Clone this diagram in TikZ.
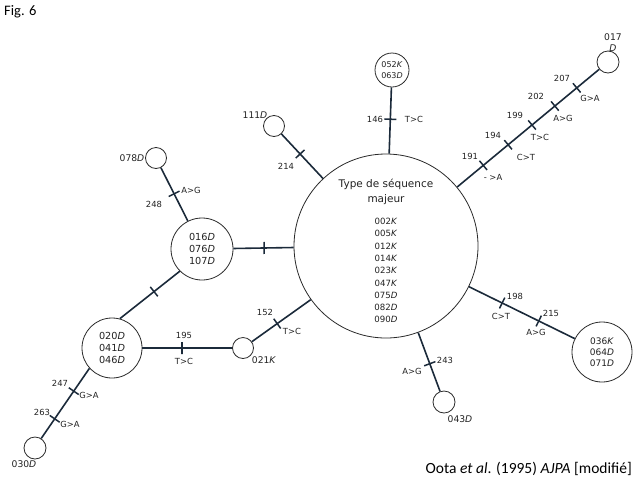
\documentclass[tikz,border=0pt]{standalone}
\usepackage{fontspec}
\setmainfont{DejaVu Sans}
\newfontfamily\calib{Carlito}
\usepackage{tikz}
\usetikzlibrary{calc, positioning}
\definecolor{LinkNavy}{HTML}{1B2A3A}
\definecolor{RingGray}{HTML}{2A2A2A}
\definecolor{TextDark}{HTML}{222222}

\begin{document}
\begin{tikzpicture}[x=1pt, y=-1pt,
        hap/.style={circle, draw=RingGray, line width=0.8pt, fill=white,
                    inner sep=0pt, align=center, text=TextDark,
                    font=\fontsize{8.6}{12.3}\selectfont},
        link/.style={draw=LinkNavy, line width=1.6pt},
        mut/.style={draw=LinkNavy, line width=1.5pt, sloped, inner sep=0pt,
                    minimum width=0pt, minimum height=12pt},
        lab/.style={font=\fontsize{8.4}{10}\selectfont, text=TextDark, inner sep=0pt},
        hname/.style={font=\fontsize{9.2}{11}\selectfont, text=TextDark, inner sep=0pt}]

        \useasboundingbox (0,0) rectangle (644,485);

        % Haplotype circles
        \node[hap, minimum size=184pt] (maj) at (386,246)
            {\rule{0pt}{19pt}{\fontsize{10.5}{14}\selectfont Type de séquence}\\[2pt]
             {\fontsize{10.5}{14}\selectfont majeur}\\[10pt]
             002\textit{K}\\005\textit{K}\\012\textit{K}\\014\textit{K}\\023\textit{K}\\
             047\textit{K}\\075\textit{D}\\082\textit{D}\\090\textit{D}};
        \node[hap, minimum size=34pt, font=\fontsize{8}{10.5}\selectfont] (h052) at (392,70)
            {052\textit{K}\\063\textit{D}};
        \node[hap, minimum size=22pt] (h017) at (608,62)  {};
        \node[hap, minimum size=21pt] (h111) at (274,126) {};
        \node[hap, minimum size=21pt] (h078) at (156,158) {};
        \node[hap, minimum size=62pt, font=\fontsize{9.7}{11.8}\selectfont] (h016) at (202,249)
            {016\textit{D}\\076\textit{D}\\107\textit{D}};
        \node[hap, minimum size=60pt, font=\fontsize{9.7}{11.8}\selectfont] (h020) at (112,348)
            {020\textit{D}\\041\textit{D}\\046\textit{D}};
        \node[hap, minimum size=21pt] (h021) at (243,348) {};
        \node[hap, minimum size=22pt] (h030) at (35,448)  {};
        \node[hap, minimum size=60pt, font=\fontsize{9}{11.2}\selectfont] (h036) at (602,352)
            {036\textit{K}\\064\textit{D}\\071\textit{D}};
        \node[hap, minimum size=22pt] (h043) at (444,402) {};

        % Links with mutation ticks
        \draw[link] (maj) -- (h052) node[mut, pos=.52] (m146) {};
        \draw[link] (maj) -- (h017)
            node[mut, pos=.184] (m191) {} node[mut, pos=.359] (m194) {}
            node[mut, pos=.527] (m199) {} node[mut, pos=.688] (m202) {}
            node[mut, pos=.842] (m207) {};
        \draw[link] (maj) -- (h111) node[mut, pos=.55] (m214) {};
        \draw[link] (h016) -- (h078) node[mut, pos=.51] (m248) {};
        \draw[link] (h016) -- (maj) node[mut, pos=.51] (m016) {};
        \draw[link] (h016.225) -- (h020.75) node[mut, pos=.43] (m020) {};
        \draw[link] (h020) -- (h021) node[mut, pos=.44] (m195) {};
        \draw[link] (h021) -- (maj) node[mut, pos=.43] (m152) {};
        \draw[link] (h020.222) -- (h030.57)
            node[mut, pos=.325] (m247) {} node[mut, pos=.72] (m263) {};
        \draw[link] (maj) -- (h036)
            node[mut, pos=.314] (m198) {} node[mut, pos=.66] (m215) {};
        \draw[link] (maj) -- (h043) node[mut, pos=.53] (m243) {};

        % Haplotype names
        \node[hname, align=center] (n017) at (613,43) {017\\\textit{D}};
        \node[hname] (n111) at (255,115) {111\textit{D}};
        \node[hname] (n078) at (132,158) {078\textit{D}};
        \node[hname] (n021) at (264,360) {021\textit{K}};
        \node[hname] (n030) at (24,464)  {030\textit{D}};
        \node[hname] (n043) at (460,419) {043\textit{D}};

        % Mutation labels
        \node[lab] (p146) at (375,119) {146};  \node[lab] (s146) at (414,119) {T>C};
        \node[lab] (p191) at (470,156) {191};  \node[lab] (s191) at (493,177) {- >A};
        \node[lab] (p194) at (493,135) {194};  \node[lab] (s194) at (526,157) {C>T};
        \node[lab] (p199) at (515,115) {199};  \node[lab] (s199) at (540,137) {T>C};
        \node[lab] (p202) at (536,96)  {202};  \node[lab] (s202) at (563,118) {A>G};
        \node[lab] (p207) at (562,78)  {207};  \node[lab] (s207) at (590,98)  {G>A};
        \node[lab] (p214) at (286,166) {214};
        \node[lab] (p248) at (154,204) {248};  \node[lab] (s248) at (191,190) {A>G};
        \node[lab] (p195) at (184,335) {195};  \node[lab] (s195) at (184,361) {T>C};
        \node[lab] (p152) at (265,312) {152};  \node[lab] (s152) at (292,331) {T>C};
        \node[lab] (p247) at (60,383)  {247};  \node[lab] (s247) at (89,395)  {G>A};
        \node[lab] (p263) at (42,412)  {263};  \node[lab] (s263) at (70,424)  {G>A};
        \node[lab] (p198) at (515,296) {198};  \node[lab] (s198) at (501,316) {C>T};
        \node[lab] (p215) at (551,313) {215};  \node[lab] (s215) at (536,332) {A>G};
        \node[lab] (p243) at (445,360) {243};  \node[lab] (s243) at (412,371) {A>G};

        % Figure number and source
        \node[font=\calib\fontsize{14.5}{16}\selectfont, anchor=west, inner sep=0pt] (fig) at (4,12) {Fig. 6};
        \node[font=\calib\fontsize{15.5}{17}\selectfont, anchor=east, inner sep=0pt] (src) at (632,469)
            {Oota \textit{et al}. (1995) \textit{AJPA} [modifié]};
      \end{tikzpicture}
\end{document}
